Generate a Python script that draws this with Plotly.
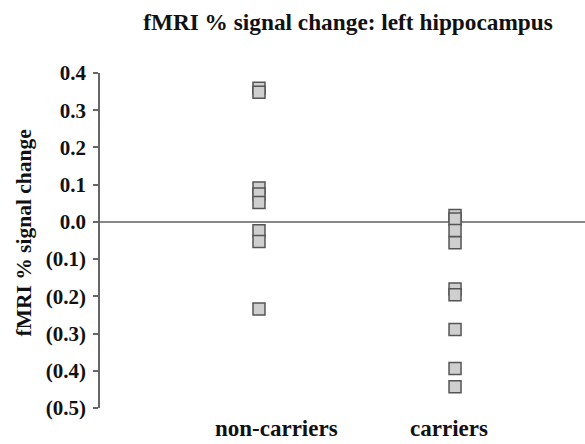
import plotly.graph_objects as go

# Group labels and the per-subject % signal change values
groups = ["non-carriers", "carriers"]
noncarrier_values = [0.359, 0.348, 0.091, 0.075, 0.052, -0.024, -0.053, -0.234]
carrier_values = [0.017, 0.0075, -0.023, -0.056, -0.180, -0.196, -0.289, -0.394, -0.443]

ytick_vals = [0.4, 0.3, 0.2, 0.1, 0.0, -0.1, -0.2, -0.3, -0.4, -0.5]
ytick_text = ["0.4", "0.3", "0.2", "0.1", "0.0", "(0.1)", "(0.2)", "(0.3)", "(0.4)", "(0.5)"]

FONT = "Liberation Serif"
TXT = "#111111"

marker_style = dict(
    symbol="square",
    size=12,
    color="#cfcfcf",
    line=dict(color="#555555", width=1.5),
)

fig = go.Figure()
for pos, vals in zip([1, 2], [noncarrier_values, carrier_values]):
    fig.add_trace(go.Scatter(
        x=[pos] * len(vals),
        y=vals,
        mode="markers",
        marker=marker_style,
        showlegend=False,
        hoverinfo="y",
    ))

# group labels sit slightly off the marker columns
label_x = [276 / 585, 449 / 585]
annotations = [
    dict(
        text=f"<b>{g}</b>",
        xref="paper", yref="paper",
        x=(lx * 585 - 100) / 485, y=-(428 - 408) / 335,
        xanchor="center", yanchor="middle",
        showarrow=False,
        font=dict(family=FONT, size=23, color=TXT),
    )
    for g, lx in zip(groups, label_x)
]
annotations.append(
    dict(
        text="<b>fMRI % signal change</b>",
        textangle=-90,
        xref="paper", yref="paper",
        x=(23 - 100) / 485, y=0.5 + (240 - 233) / 335,
        xanchor="center", yanchor="middle",
        showarrow=False,
        font=dict(family=FONT, size=21.5, color=TXT),
    )
)

fig.update_layout(
    width=585,
    height=444,
    margin=dict(l=100, r=0, t=73, b=36),
    paper_bgcolor="white",
    plot_bgcolor="white",
    font=dict(family=FONT, color=TXT),
    title=dict(
        text="<b>fMRI % signal change: left hippocampus</b>",
        x=348 / 585,
        xanchor="center",
        y=1 - 22 / 444,
        yanchor="middle",
        font=dict(family=FONT, size=23.3, color=TXT),
    ),
    xaxis=dict(
        range=[0.189, 2.663],
        showticklabels=False,
        showgrid=False,
        zeroline=False,
        showline=False,
        ticks="",
        fixedrange=True,
    ),
    yaxis=dict(
        range=[-0.5, 0.4],
        tickvals=ytick_vals,
        ticktext=[f"<b>{t}</b>" for t in ytick_text],
        tickfont=dict(family=FONT, size=21, color=TXT),
        showgrid=False,
        zeroline=True,
        zerolinecolor="#888888",
        zerolinewidth=1.5,
        showline=True,
        linecolor="#666666",
        linewidth=1.5,
        ticks="outside",
        ticklen=5,
        tickcolor="#666666",
        tickwidth=1.5,
        ticklabelstandoff=3,
        fixedrange=True,
    ),
    annotations=annotations,
)

fig.write_html("out.html")
